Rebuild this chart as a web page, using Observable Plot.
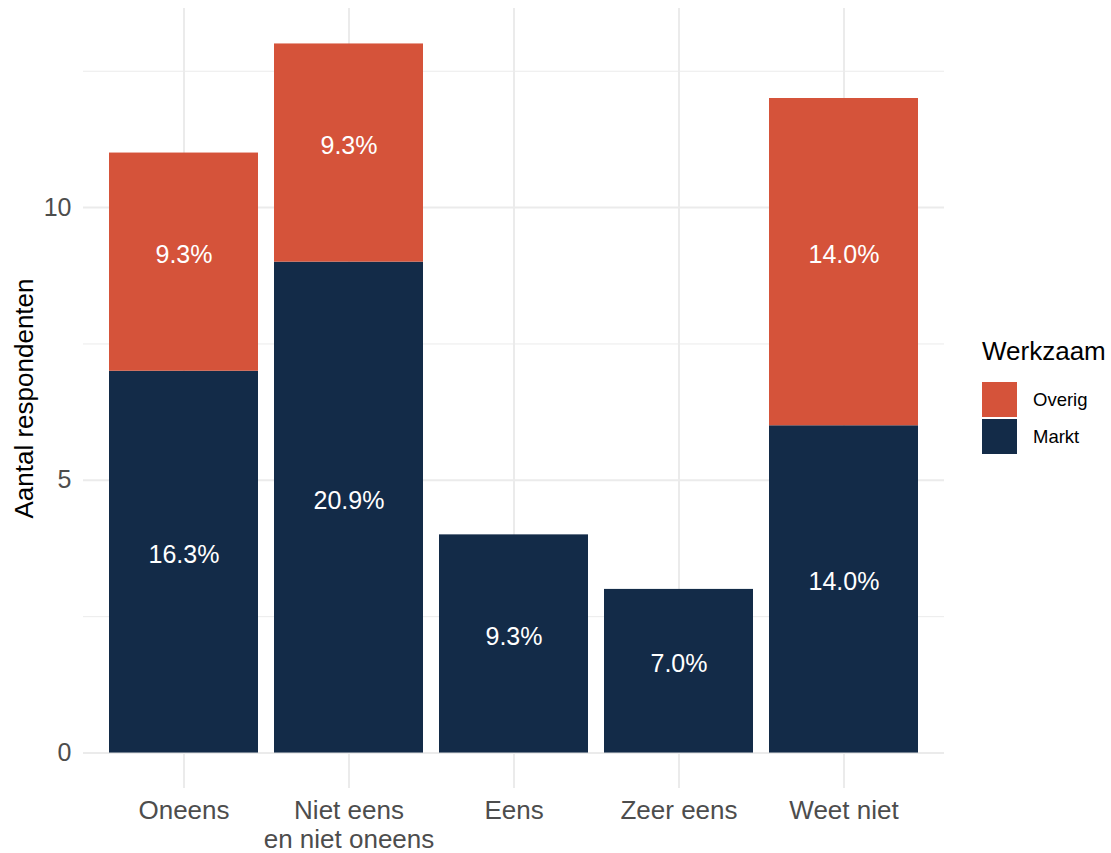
<!DOCTYPE html>
<html>
<head>
<meta charset="utf-8">
<script src="https://cdn.jsdelivr.net/npm/d3@7"></script>
<script src="https://cdn.jsdelivr.net/npm/@observablehq/plot@0.6"></script>
<style>
  body { margin: 0; background: #fff; font-family: "Liberation Sans", Arial, sans-serif; }
  #wrap { position: relative; width: 1111px; height: 853px; }
  #legend { position: absolute; left: 982px; top: 336px; font-family: "Liberation Sans", Arial, sans-serif; color: #000; }
  #legend .title { font-size: 26px; line-height: 30px; margin-bottom: 15px; white-space: nowrap; }
  #legend .row { display: flex; align-items: center; height: 37px; }
  #legend .key { width: 35px; height: 35px; margin-right: 16px; }
  #legend .lab { font-size: 18.5px; }
</style>
</head>
<body>
<div id="wrap"><div id="legend"></div></div>
<script>
const categories = ["Oneens", "Niet eens\nen niet oneens", "Eens", "Zeer eens", "Weet niet"];
const series = ["Markt", "Overig"];
const marktValues = [7, 9, 4, 3, 6];
const overigValues = [4, 4, 0, 0, 6];
const legendOrder = ["Overig", "Markt"];
const colors = {Overig: "#d5533a", Markt: "#132b48"};
const yTicks = [0, 5, 10];
const yMinor = [2.5, 7.5, 12.5];

const total = d3.sum(marktValues) + d3.sum(overigValues);
const rows = [];
categories.forEach((c, i) => {
  rows.push({cat: c, werkzaam: "Markt", n: marktValues[i]});
  rows.push({cat: c, werkzaam: "Overig", n: overigValues[i]});
});
const data = rows.filter(d => d.n > 0).map(d => ({...d, label: (d.n / total * 100).toFixed(1) + "%"}));

const chart = Plot.plot({
  width: 1111,
  height: 853,
  marginLeft: 83,
  marginRight: 167,
  marginTop: 8,
  marginBottom: 65,
  style: {fontFamily: "'Liberation Sans', Arial, sans-serif", background: "#fff"},
  x: {domain: categories, paddingInner: 0.1, paddingOuter: 0.15, label: null},
  y: {domain: [-0.65, 13.65], label: null},
  color: {domain: series, range: series.map(s => colors[s])},
  marks: [
    Plot.ruleY(yMinor, {stroke: "#ebebeb", strokeWidth: 1}),
    Plot.ruleY(yTicks, {stroke: "#ebebeb", strokeWidth: 2}),
    Plot.ruleX(categories, {x: d => d, stroke: "#ebebeb", strokeWidth: 2}),
    Plot.barY(data, {x: "cat", y: "n", fill: "werkzaam", order: series, inset: 0}),
    Plot.text(data, Plot.stackY({x: "cat", y: "n", z: "werkzaam", order: series, text: "label", fill: "white", fontSize: 25, dy: -7})),
    Plot.axisY({ticks: yTicks, tickSize: 0, tickPadding: 12, fontSize: 25, color: "#4d4d4d", label: null}),
    Plot.axisX({tickSize: 0, tickPadding: 11, fontSize: 26, color: "#4d4d4d", lineHeight: 1.08, label: null}),
    Plot.text(["Aantal respondenten"], {frameAnchor: "left", dx: -59, rotate: -90, textAnchor: "middle", fontSize: 26, fill: "#000"})
  ]
});
document.getElementById("wrap").prepend(chart);

const legend = document.getElementById("legend");
legend.innerHTML = `<div class="title">Werkzaam</div>` + legendOrder.map(s =>
  `<div class="row"><div class="key" style="background:${colors[s]}"></div><div class="lab">${s}</div></div>`).join("");
</script>
</body>
</html>
